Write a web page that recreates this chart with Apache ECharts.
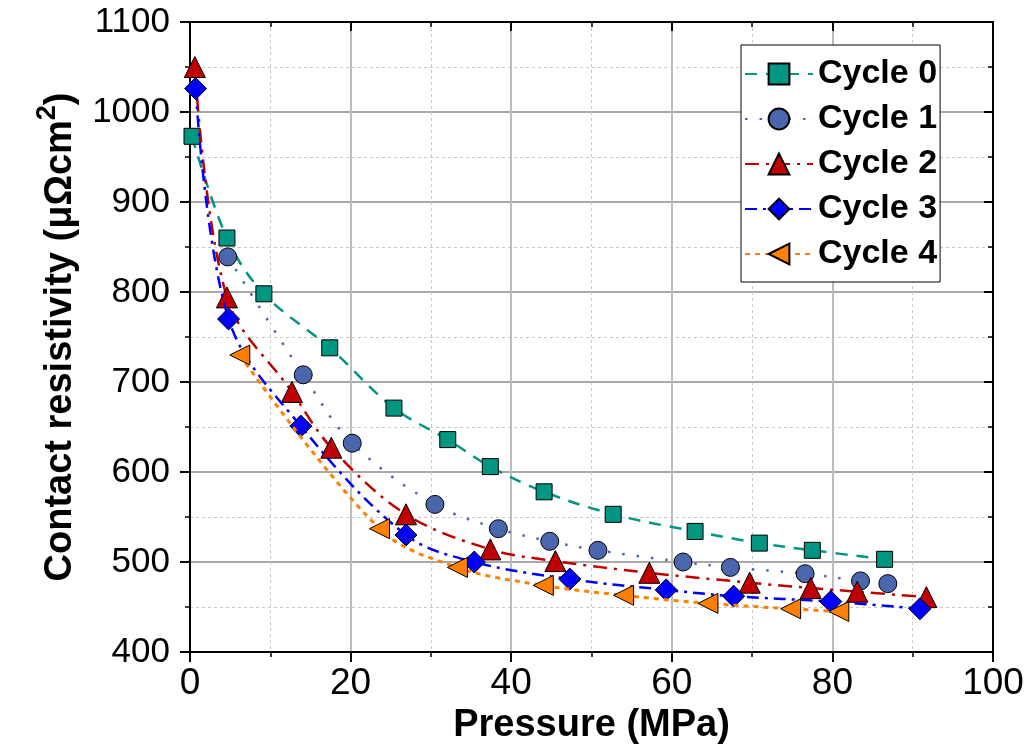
<!DOCTYPE html>
<html>
<head>
<meta charset="utf-8">
<script src="https://cdn.jsdelivr.net/npm/echarts@6/dist/echarts.min.js"></script>
<style>
html,body{margin:0;padding:0;background:#fff;}
#chart{width:1034px;height:754px;}
</style>
</head>
<body>
<div id="chart"></div>
<script>
// ---- Data ----
const seriesNames = ['Cycle 0', 'Cycle 1', 'Cycle 2', 'Cycle 3', 'Cycle 4'];

const cycle0X = [0.25, 4.6, 9.2, 17.4, 25.4, 32.1, 37.4, 44.1, 52.7, 62.9, 70.9, 77.5, 86.5];
const cycle0Y = [973, 860, 798, 738, 671, 636, 606, 578, 553, 534, 521, 513, 503];

const cycle1X = [4.7, 14.1, 20.2, 30.5, 38.4, 44.8, 50.8, 61.4, 67.3, 76.6, 83.5, 86.9];
const cycle1Y = [839, 708, 632, 564, 537, 523, 513, 500, 494, 487, 479, 476];

const cycle2X = [0.6, 4.6, 12.7, 17.6, 26.9, 37.4, 45.5, 57.2, 69.7, 77.3, 83.1, 91.7];
const cycle2Y = [1050, 794, 689, 627, 553, 514, 501, 488, 477, 471, 467, 461];

const cycle3X = [0.7, 4.8, 13.8, 26.9, 35.4, 47.3, 59.3, 67.7, 79.8, 90.9];
const cycle3Y = [1026, 770, 651, 530, 500, 481, 469, 462, 456, 448];

const cycle4X = [6.2, 23.6, 33.3, 44.0, 54.0, 64.5, 74.8, 80.8];
const cycle4Y = [730, 537, 494, 474, 463, 454, 448, 445];

const xTicks = { min: 0, max: 100, interval: 20 };
const yTicks = { min: 400, max: 1100, interval: 100 };

// ---- Build chart ----
function pairs(xs, ys) { return xs.map((x, i) => [x, ys[i]]); }

const FONT = '"Liberation Sans", Arial, Helvetica, sans-serif';

const styles = [
  { color: '#009682', symbol: 'rect', size: 16, rotate: 0, dash: [12, 9], width: 2.5 },
  { color: '#4a66ac', symbol: 'circle', size: 18, rotate: 0, dash: [2.5, 12], width: 2.5 },
  { color: '#c00000', symbol: 'triangle', size: 21, rotate: 0, dash: [14, 7, 3, 7], width: 2.5 },
  { color: '#0000ff', symbol: 'diamond', size: 22, rotate: 0, dash: [12, 6, 3, 6], width: 2.5 },
  { color: '#ff8000', symbol: 'triangle', size: 20, rotate: 90, dash: [5, 5], width: 3 }
];
const allData = [
  pairs(cycle0X, cycle0Y), pairs(cycle1X, cycle1Y), pairs(cycle2X, cycle2Y),
  pairs(cycle3X, cycle3Y), pairs(cycle4X, cycle4Y)
];

const series = seriesNames.map((name, i) => ({
  name: name,
  type: 'line',
  xAxisIndex: 0,
  yAxisIndex: 0,
  data: allData[i],
  smooth: 0.35,
  symbol: styles[i].symbol,
  symbolSize: styles[i].size,
  symbolRotate: styles[i].rotate,
  clip: false,
  lineStyle: { color: styles[i].color, width: styles[i].width, type: styles[i].dash },
  itemStyle: { color: styles[i].color, borderColor: '#000', borderWidth: 1, opacity: 1 },
  emphasis: { disabled: true },
  z: 3 + i
}));

const chart = echarts.init(document.getElementById('chart'), null, { renderer: 'canvas' });

const minorGrid = { show: true, lineStyle: { color: '#c8c8c8', type: [3, 3], width: 1 } };
const plain = v => String(v);

chart.setOption({
  animation: false,
  backgroundColor: '#fff',
  grid: { left: 190, right: 41, top: 22, bottom: 102, containLabel: false },
  legend: {
    data: seriesNames,
    orient: 'vertical',
    left: 741,
    top: 45,
    padding: [11, 3, 10, 3],
    itemGap: 9,
    itemWidth: 68,
    itemHeight: 26,
    backgroundColor: '#fff',
    borderColor: '#000',
    borderWidth: 1,
    textStyle: { fontFamily: FONT, fontWeight: 'bold', fontSize: 34, color: '#000', lineHeight: 36 },
    selectedMode: false
  },
  xAxis: [
    {
      type: 'value', position: 'bottom',
      min: xTicks.min, max: xTicks.max, interval: xTicks.interval,
      name: 'Pressure (MPa)', nameLocation: 'middle', nameGap: 54,
      nameTextStyle: { fontFamily: FONT, fontWeight: 'bold', fontSize: 38, color: '#000' },
      axisLine: { show: true, onZero: false, lineStyle: { color: '#000', width: 2 } },
      axisTick: { show: true, inside: false, length: 10, lineStyle: { color: '#000', width: 2 } },
      minorTick: { show: true, splitNumber: 2, length: 5, lineStyle: { color: '#000', width: 1.5 } },
      axisLabel: { fontFamily: FONT, fontSize: 37, color: '#000', margin: 13, formatter: plain },
      splitLine: { show: true, lineStyle: { color: '#bdbdbd', width: 2 } },
      minorSplitLine: minorGrid
    },
    {
      type: 'value', position: 'top',
      min: xTicks.min, max: xTicks.max, interval: xTicks.interval,
      axisLine: { show: true, onZero: false, lineStyle: { color: '#000', width: 2 } },
      axisTick: { show: true, inside: true, length: 9, lineStyle: { color: '#000', width: 2 } },
      minorTick: { show: true, splitNumber: 2, length: 5, lineStyle: { color: '#000', width: 1.5 } },
      axisLabel: { show: false },
      splitLine: { show: false }
    }
  ],
  yAxis: [
    {
      type: 'value', position: 'left',
      min: yTicks.min, max: yTicks.max, interval: yTicks.interval,
      name: '{a|Contact resistivity (μΩcm}{s|2}{a|)}',
      nameLocation: 'middle', nameGap: 110, nameRotate: 90,
      nameTextStyle: {
        rich: {
          a: { fontFamily: FONT, fontWeight: 'bold', fontSize: 38, color: '#000', lineHeight: 46, verticalAlign: 'bottom' },
          s: { fontFamily: FONT, fontWeight: 'bold', fontSize: 27, color: '#000', lineHeight: 46, verticalAlign: 'top', padding: [0, 0, 14, 0] }
        }
      },
      axisLine: { show: true, onZero: false, lineStyle: { color: '#000', width: 2 } },
      axisTick: { show: true, inside: false, length: 10, lineStyle: { color: '#000', width: 2 } },
      minorTick: { show: true, splitNumber: 2, length: 5, lineStyle: { color: '#000', width: 1.5 } },
      axisLabel: { fontFamily: FONT, fontSize: 35, color: '#000', margin: 20, formatter: plain },
      splitLine: { show: true, lineStyle: { color: '#8c8c8c', width: 1.5 } },
      minorSplitLine: minorGrid
    },
    {
      type: 'value', position: 'right',
      min: yTicks.min, max: yTicks.max, interval: yTicks.interval,
      axisLine: { show: true, onZero: false, lineStyle: { color: '#000', width: 2 } },
      axisTick: { show: true, inside: true, length: 9, lineStyle: { color: '#000', width: 2 } },
      minorTick: { show: true, splitNumber: 2, length: 5, lineStyle: { color: '#000', width: 1.5 } },
      axisLabel: { show: false },
      splitLine: { show: false }
    }
  ],
  series: series
});
</script>
</body>
</html>
